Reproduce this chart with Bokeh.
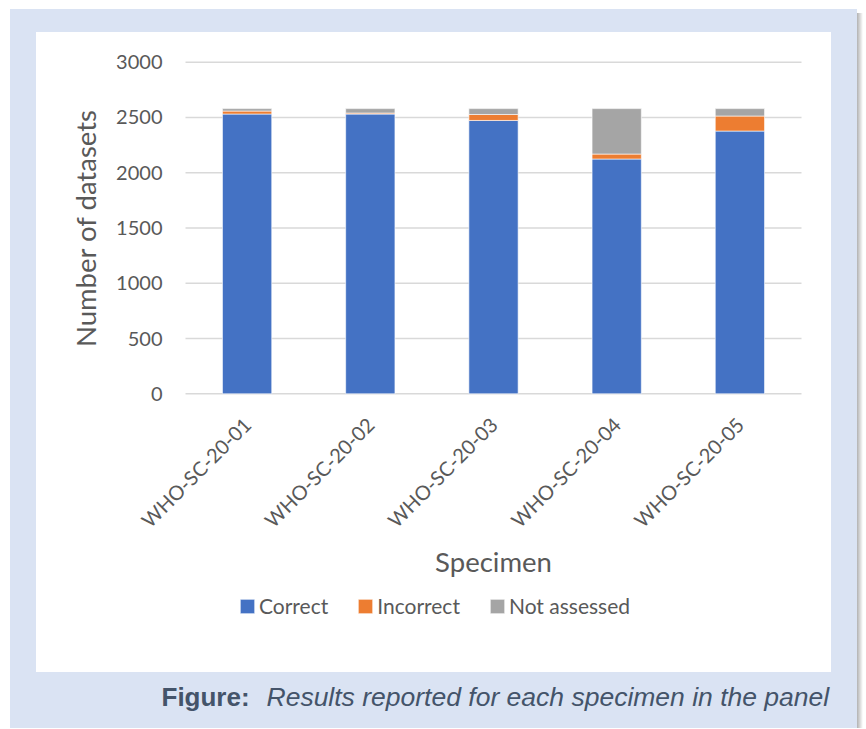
import math
from bokeh.plotting import figure
from bokeh.models import (Legend, LegendItem, ColumnDataSource, FixedTicker, Label,
                          InlineStyleSheet, Range1d)
from bokeh.embed import file_html
from bokeh.resources import INLINE

specimens = ["WHO-SC-20-01", "WHO-SC-20-02", "WHO-SC-20-03", "WHO-SC-20-04", "WHO-SC-20-05"]
correct = [2531, 2531, 2473, 2124, 2377]
incorrect = [27, 9, 54, 45, 136]
not_assessed = [22, 40, 53, 411, 67]
series = ["Correct", "Incorrect", "Not assessed"]
colors = ["#4472c4", "#ed7d31", "#a5a5a5"]
y_ticks = [0, 500, 1000, 1500, 2000, 2500, 3000]
y_title = "Number of datasets"
x_title = "Specimen"
caption_bold = "Figure:"
caption_text = "Results reported for each specimen in the panel"

TEXT = "#595959"
FONT = "Lato"
PANEL_BLUE = "#dae3f3"
CAPTION = "#44546a"

W, H = 864, 728
# plot area in page pixels
PX_LEFT, PX_RIGHT = 185.0, 801.0
PX_ZERO, PX_TOP = 393.3, 61.7
Y_MAX = y_ticks[-1]
N = len(specimens)
ux = (PX_RIGHT - PX_LEFT) / N          # px per category
uy = (PX_ZERO - PX_TOP) / Y_MAX        # px per unit


def dx(px):
    return (px - PX_LEFT) / ux


def dy(py):
    return (PX_ZERO - py) / uy


background_css = (
    "linear-gradient(#ffffff, #ffffff) 36px 32px / 795px 640px no-repeat, "
    "linear-gradient(to right, rgba(0,0,0,0.30), rgba(0,0,0,0)) 857px 13px / 6px 716px no-repeat, "
    f"linear-gradient({PANEL_BLUE}, {PANEL_BLUE}) 10px 9px / 847px 720px no-repeat, "
    "#ffffff"
)

positions = [i + 0.5 for i in range(N)]
source = ColumnDataSource(dict(pos=positions, specimen=specimens, Correct=correct,
                               Incorrect=incorrect, **{"Not assessed": not_assessed}))

p = figure(x_range=Range1d(dx(0), dx(W)), y_range=Range1d(dy(H), dy(0)),
           width=W, height=H, output_backend="svg", toolbar_location=None)
p.min_border = 0
p.border_fill_color = None
p.background_fill_color = None
p.outline_line_color = None
p.grid.visible = False
p.stylesheets = [InlineStyleSheet(css=f":host {{ background: {background_css}; }}")]
p.styles = {"background": background_css}

# horizontal gridlines
p.segment(x0=[0] * len(y_ticks), x1=[N] * len(y_ticks), y0=y_ticks, y1=y_ticks,
          line_color="#d9d9d9", line_width=1.5)

renderers = p.vbar_stack(series, x="pos", width=0.4, color=colors, source=source,
                         line_color="white", line_width=0.6)

# y axis drawn at x = 0
p.yaxis.fixed_location = 0
p.yaxis.ticker = FixedTicker(ticks=y_ticks)
p.yaxis.axis_line_color = None
p.yaxis.major_tick_line_color = None
p.yaxis.minor_tick_line_color = None
p.yaxis.major_tick_out = 0
p.yaxis.major_tick_in = 0
p.yaxis.major_label_standoff = 23
p.yaxis.major_label_text_font = FONT
p.yaxis.major_label_text_font_size = "20px"
p.yaxis.major_label_text_color = TEXT

# x axis drawn at y = 0
p.xaxis.fixed_location = 0
p.xaxis.ticker = FixedTicker(ticks=positions)
p.xaxis.major_label_overrides = {pos: name for pos, name in zip(positions, specimens)}
p.xaxis.axis_line_color = None
p.xaxis.major_tick_line_color = None
p.xaxis.minor_tick_line_color = None
p.xaxis.major_tick_out = 0
p.xaxis.major_tick_in = 0
p.xaxis.major_label_orientation = math.pi / 4
p.xaxis.major_label_standoff = 27
p.xaxis.major_label_text_font = FONT
p.xaxis.major_label_text_font_size = "20px"
p.xaxis.major_label_text_color = TEXT

# axis titles
p.add_layout(Label(x=dx(85), y=Y_MAX / 2, text=y_title, angle=math.pi / 2,
                   text_align="center", text_baseline="alphabetic",
                   text_font=FONT, text_font_size="27.5px", text_color=TEXT))
p.add_layout(Label(x=N / 2, y=dy(561), text=x_title,
                   text_align="center", text_baseline="alphabetic",
                   text_font=FONT, text_font_size="27.5px", text_color=TEXT))

legend = Legend(items=[LegendItem(label=s, renderers=[r]) for s, r in zip(series, renderers)],
                orientation="horizontal", location=(238, H - 618),
                glyph_width=18, glyph_height=18, label_standoff=3, spacing=28,
                padding=0, margin=0, border_line_color=None, background_fill_alpha=0,
                label_text_font=FONT, label_text_font_size="21px", label_text_color=TEXT,
                label_height=22)
p.add_layout(legend, "center")

p.add_layout(Label(x=dx(161), y=dy(696), text=caption_bold, text_baseline="alphabetic",
                   text_font="Liberation Sans", text_font_style="bold", text_font_size="26px",
                   text_color=CAPTION))
p.add_layout(Label(x=dx(266), y=dy(696), text=caption_text, text_baseline="alphabetic",
                   text_font="Liberation Sans", text_font_style="italic", text_font_size="26.5px",
                   text_color=CAPTION))

open("out.html", "w").write(file_html(p, INLINE))
